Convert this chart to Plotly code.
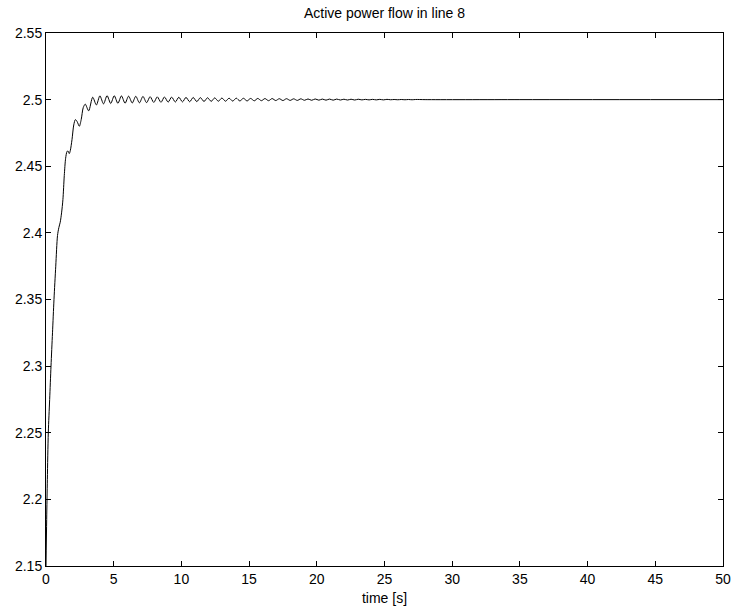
import plotly.graph_objects as go

# Early transient (time [s], active power)
t_rise = [0.0, 0.05, 0.10, 0.17, 0.27, 0.37, 0.48, 0.59, 0.72, 0.85, 0.95, 1.05, 1.15,
          1.25, 1.35, 1.45, 1.55, 1.62, 1.72, 1.80, 1.92, 2.05, 2.17, 2.30, 2.46, 2.60,
          2.75, 2.90, 3.15]
p_rise = [2.150, 2.185, 2.215, 2.250, 2.275, 2.300, 2.325, 2.350, 2.375, 2.398, 2.404,
          2.408, 2.415, 2.425, 2.443, 2.456, 2.461, 2.4615, 2.4595, 2.462, 2.470, 2.481,
          2.485, 2.4835, 2.480, 2.485, 2.494, 2.4966, 2.4916]

# Decaying oscillation: successive peaks and troughs
t_osc = [3.45, 3.72, 3.98, 4.25, 4.51, 4.78, 5.04, 5.31, 5.57, 5.84, 6.10, 6.37, 6.63,
         6.90, 7.16, 7.43, 7.69, 7.96, 8.22, 8.49, 8.75, 9.02, 9.28, 9.55, 9.81, 10.08,
         10.34, 10.61, 10.87, 11.14, 11.40, 11.67, 11.93, 12.20, 12.46, 12.73, 12.99,
         13.26, 13.52, 13.79, 14.05, 14.32, 14.58, 14.85, 15.11, 15.38, 15.64, 15.91,
         16.17, 16.44, 16.70, 16.97, 17.23, 17.50, 17.76, 18.03, 18.29, 18.56, 18.82,
         19.09, 19.35, 19.62, 19.88, 20.15, 20.41, 20.68, 20.94, 21.21, 21.47, 21.74,
         22.00, 22.27, 22.53, 22.80, 23.06, 23.33, 23.59, 23.86, 24.12, 24.39, 24.65,
         24.92, 25.18, 25.45, 25.71, 25.98, 26.24, 26.51, 26.77, 27.04, 27.30]
p_osc = [2.5018, 2.4960, 2.5028, 2.4968, 2.5030, 2.4971, 2.5029, 2.4972, 2.5028, 2.4973,
         2.5026, 2.4975, 2.5025, 2.4976, 2.5024, 2.4977, 2.5022, 2.4979, 2.5021, 2.4980,
         2.5020, 2.4981, 2.5019, 2.4982, 2.5018, 2.4983, 2.5017, 2.4984, 2.5016, 2.4985,
         2.5015, 2.4986, 2.5014, 2.4987, 2.5013, 2.4988, 2.5012, 2.4988, 2.5011, 2.4989,
         2.5011, 2.4990, 2.5010, 2.4990, 2.5009, 2.4991, 2.5009, 2.4992, 2.5008, 2.4992,
         2.5008, 2.4993, 2.5007, 2.4993, 2.5007, 2.4994, 2.5006, 2.4994, 2.5006, 2.4995,
         2.5005, 2.4995, 2.5005, 2.4996, 2.5004, 2.4996, 2.5004, 2.4996, 2.5004, 2.4997,
         2.5003, 2.4997, 2.5003, 2.4997, 2.5003, 2.4998, 2.5002, 2.4998, 2.5002, 2.4998,
         2.5002, 2.4998, 2.5002, 2.4999, 2.5001, 2.4999, 2.5001, 2.4999, 2.5001, 2.4999,
         2.5001]

# Steady state
t_tail = [28.0, 35.0, 50.0]
p_tail = [2.5, 2.5, 2.5]

t_all = t_rise + t_osc + t_tail
p_all = p_rise + p_osc + p_tail

x_ticks = [0, 5, 10, 15, 20, 25, 30, 35, 40, 45, 50]
y_ticks = [2.15, 2.2, 2.25, 2.3, 2.35, 2.4, 2.45, 2.5, 2.55]

FONT = "Liberation Sans, Arial"

fig = go.Figure()
fig.add_trace(go.Scatter(x=t_all, y=p_all, mode="lines",
                         line=dict(color="black", width=1, shape="spline", smoothing=0.8),
                         showlegend=False, hoverinfo="x+y"))

axis_common = dict(showgrid=False, zeroline=False, showline=True, linecolor="black",
                   linewidth=1, mirror="allticks", ticks="inside", ticklen=5,
                   tickcolor="black", tickwidth=1, automargin=False,
                   tickfont=dict(family=FONT, size=14, color="black"))

fig.update_layout(
    width=736, height=615,
    margin=dict(l=46, r=13, t=33, b=49),
    paper_bgcolor="white", plot_bgcolor="white",
    title=dict(text="Active power flow in line 8", x=0.5224, xanchor="center",
               y=0.979, yanchor="middle", automargin=False,
               font=dict(family=FONT, size=14, color="black")),
    xaxis=dict(range=[0, 50], tickvals=x_ticks, ticktext=[str(v) for v in x_ticks],
               title=dict(text="time [s]", standoff=7,
                          font=dict(family=FONT, size=14, color="black")),
               **axis_common),
    yaxis=dict(range=[2.15, 2.55], tickvals=y_ticks, ticktext=[f"{v:g}" for v in y_ticks],
               **axis_common),
)

fig.write_html("out.html")
